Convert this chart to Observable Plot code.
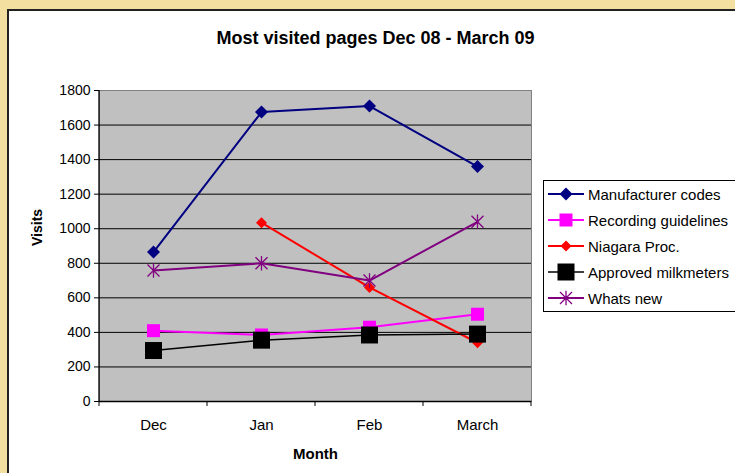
<!DOCTYPE html>
<html><head><meta charset="utf-8">
<script src="https://cdn.jsdelivr.net/npm/d3@7"></script>
<script src="https://cdn.jsdelivr.net/npm/@observablehq/plot@0.6"></script>
<style>
html,body{margin:0;padding:0;}
body{width:735px;height:473px;background:#F3DFA0;position:relative;overflow:hidden;font-family:"Liberation Sans",Arial,sans-serif;}
#area{position:absolute;left:7px;top:9px;width:740px;height:480px;background:#fff;border-left:2px solid #222;border-top:2px solid #222;}
#chart{position:absolute;left:0;top:0;}
#title{position:absolute;left:8px;width:735px;top:28px;text-align:center;font-weight:bold;font-size:18px;color:#000;}
#legend{position:absolute;left:543px;top:180px;width:200px;height:132px;border:1px solid #000;background:#fff;box-sizing:border-box;padding-top:0px;}
.row{height:26px;display:flex;align-items:center;font-size:15px;color:#000;white-space:nowrap;}
.row svg{margin-left:3px;margin-right:3px;flex:none;}
</style></head>
<body><div id="area"></div><div id="chart"></div><div id="title">Most visited pages Dec 08 - March 09</div><div id="legend"></div>
<script>
const months = ["Dec","Jan","Feb","March"];
const seriesNames = ["Manufacturer codes","Recording guidelines","Niagara Proc.","Approved milkmeters","Whats new"];
const manufacturerCodes = [865,1675,1710,1360];
const recordingGuidelines = [410,385,430,505];
const niagaraProc = [null,1035,660,340];
const approvedMilkmeters = [295,355,385,390];
const whatsNew = [758,800,700,1040];
const yTicks = [0,200,400,600,800,1000,1200,1400,1600,1800];

const seriesValues = [manufacturerCodes, recordingGuidelines, niagaraProc, approvedMilkmeters, whatsNew];

// styles
const colors = ["#000080","#FF00FF","#FF0000","#000000","#800080"];
const rad = v => Math.sqrt(v / Math.PI);
const diamondSym = {draw(c, s){const r = rad(s); c.moveTo(0,-r); c.lineTo(r,0); c.lineTo(0,r); c.lineTo(-r,0); c.closePath();}};
const squareSym = {draw(c, s){const r = rad(s); c.moveTo(-r,-r); c.lineTo(r,-r); c.lineTo(r,r); c.lineTo(-r,r); c.closePath();}};
const starSym = {draw(c, s){const r = rad(s); c.moveTo(-r,-r); c.lineTo(r,r); c.moveTo(r,-r); c.lineTo(-r,r); c.moveTo(0,-r*1.2); c.lineTo(0,r*1.2);}};
const symbols = [diamondSym, squareSym, diamondSym, squareSym, starSym];
const markerR = [6.5, 6.5, 5.5, 8.5, 6];
const lineW = [2, 2, 2, 1.5, 2];
const starLike = [false,false,false,false,true];

const table = [];
seriesNames.forEach((name, i) => {
  seriesValues[i].forEach((v, j) => { if (v != null) table.push({series: name, month: months[j], value: v}); });
});

const seriesMarks = seriesNames.flatMap((name, i) => {
  const rows = table.filter(d => d.series === name);
  return [
    Plot.line(rows, {x: "month", y: "value", stroke: colors[i], strokeWidth: lineW[i]}),
    Plot.dot(rows, {x: "month", y: "value", symbol: symbols[i], r: markerR[i],
      fill: starLike[i] ? "none" : colors[i], stroke: colors[i], strokeWidth: starLike[i] ? 1.3 : 0})
  ];
});

const chart = Plot.plot({
  width: 735, height: 473,
  marginLeft: 99, marginRight: 204, marginTop: 90, marginBottom: 72,
  style: {background: "transparent", fontFamily: "'Liberation Sans', Arial, sans-serif", fontSize: "14px", color: "#000"},
  x: {type: "band", domain: months, padding: 0},
  y: {domain: [0, 1800]},
  marks: [
    Plot.frame({fill: "#C0C0C0", stroke: "#808080"}),
    Plot.ruleY(yTicks.filter(t => t > 0 && t < 1800), {stroke: "#000", strokeWidth: 1}),
    Plot.ruleY([0], {stroke: "#000", strokeWidth: 1.3}),
    Plot.axisY(yTicks, {tickSize: 5, tickPadding: 4, fontSize: 14, tickFormat: d => String(d), label: null, stroke: "#000"}),
    Plot.axisX({tickSize: 0, tickPadding: 18, fontSize: 15, label: null}),
    Plot.text(["Visits"], {frameAnchor: "left", dx: -62, rotate: -90, fontWeight: "bold", fontSize: 14}),
    Plot.text(["Month"], {frameAnchor: "bottom", dy: 57, fontWeight: "bold", fontSize: 15}),
    ...seriesMarks
  ]
});
document.getElementById("chart").append(chart);

// y axis line and x boundary ticks from the library's scales
const sx = chart.scale("x"), sy = chart.scale("y");
const svg = d3.select(chart);
const y0 = sy.apply(0), y1 = sy.apply(1800);
const bounds = months.map(m => sx.apply(m)).concat([sx.apply(months[months.length-1]) + sx.bandwidth]);
const axisG = svg.insert("g", "g[aria-label='line']");
axisG.append("line").attr("x1", bounds[0]).attr("x2", bounds[0]).attr("y1", y1).attr("y2", y0).attr("stroke", "#000").attr("stroke-width", 1.3);
axisG.selectAll("line.bt").data(bounds).join("line").attr("class","bt")
  .attr("x1", d => d).attr("x2", d => d).attr("y1", y0).attr("y2", y0 + 5).attr("stroke", "#000");

// legend
const legend = d3.select("#legend");
seriesNames.forEach((name, i) => {
  const row = legend.append("div").attr("class", "row");
  const s = row.append("svg").attr("width", 38).attr("height", 20);
  s.append("line").attr("x1", 1).attr("x2", 37).attr("y1", 10).attr("y2", 10).attr("stroke", colors[i]).attr("stroke-width", lineW[i]);
  const r = markerR[i] * Math.sqrt(Math.PI);
  const p = d3.path(); symbols[i].draw(p, r * r);
  s.append("path").attr("d", p.toString()).attr("transform", "translate(19,10)")
    .attr("fill", starLike[i] ? "none" : colors[i]).attr("stroke", colors[i]).attr("stroke-width", starLike[i] ? 1.3 : 0);
  row.append("span").text(name);
});
</script>
</body></html>
